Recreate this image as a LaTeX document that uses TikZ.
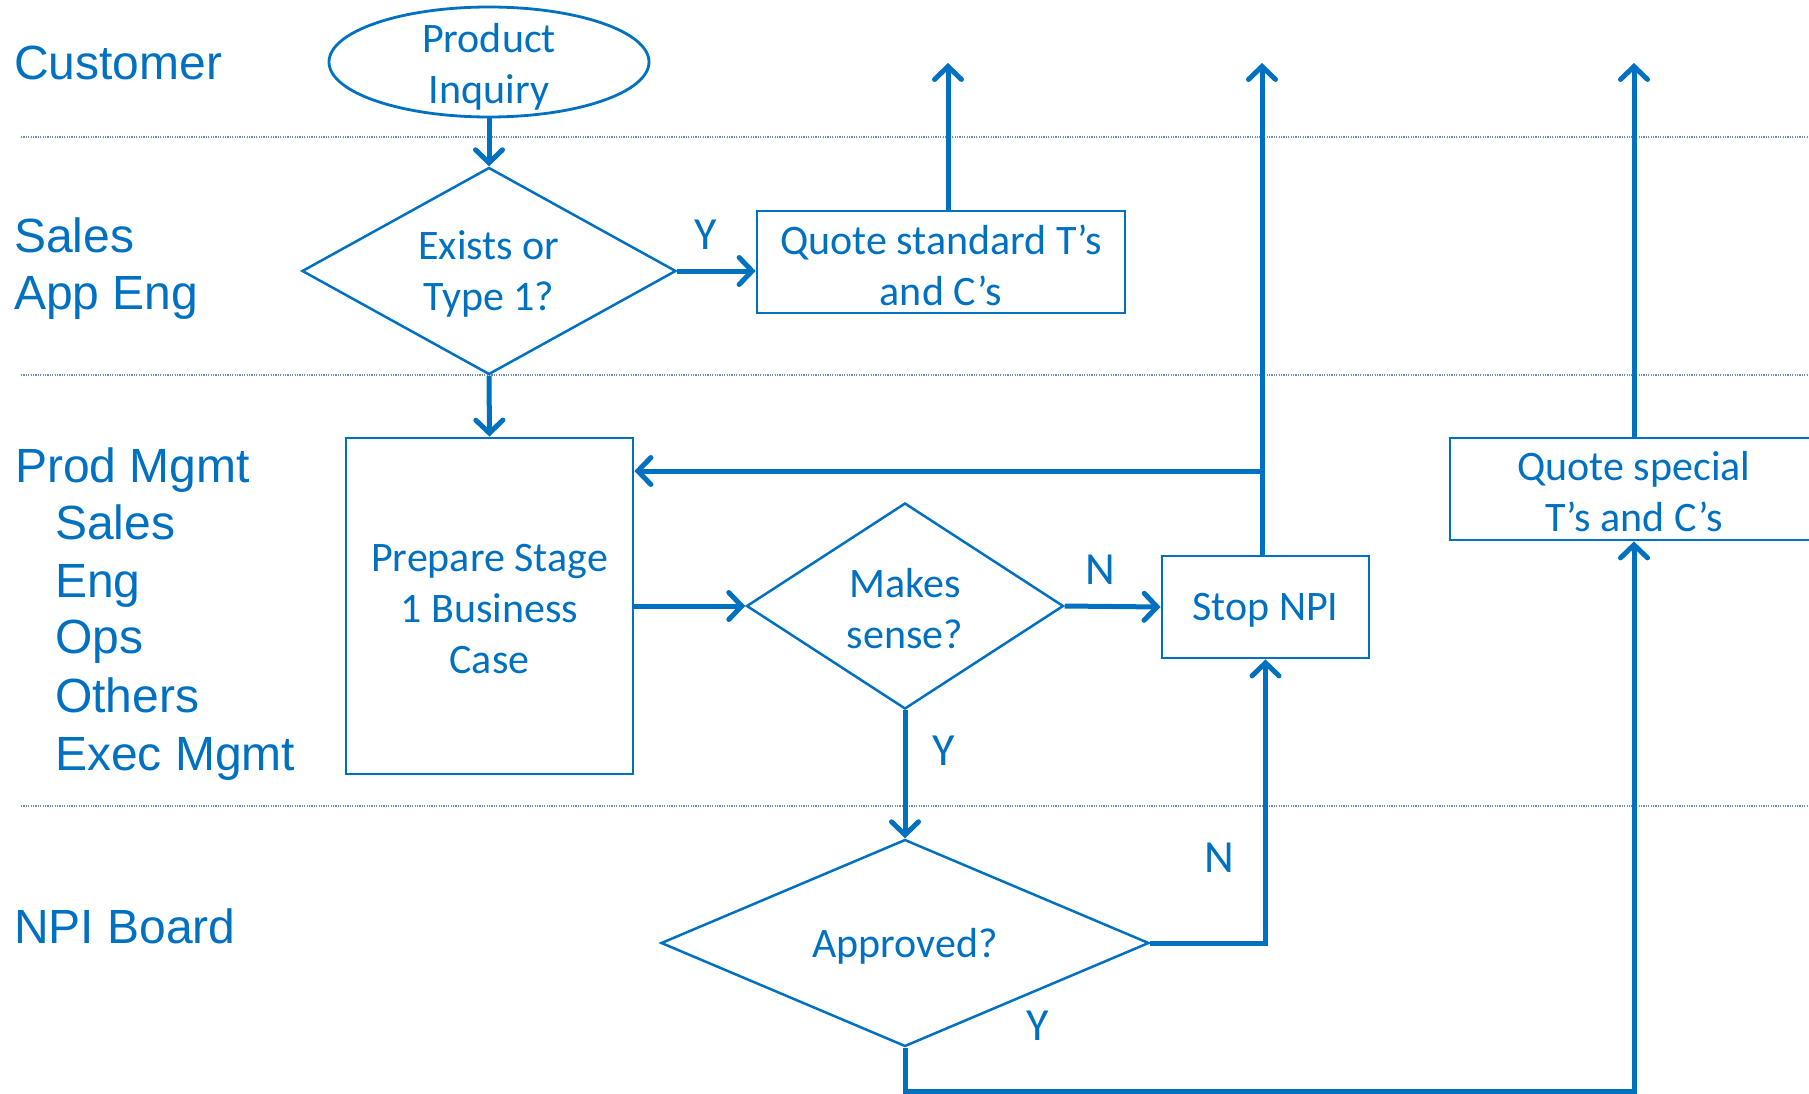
\documentclass[tikz,border=0pt]{standalone}
\usepackage{fontspec}
\setmainfont{Carlito}
\newfontfamily\lanefont{Liberation Sans}
\usetikzlibrary{shapes.geometric,arrows.meta,calc}
\definecolor{fblue}{RGB}{0,112,192}
\definecolor{lanegray}{RGB}{110,140,175}
\begin{document}
\begin{tikzpicture}[x=1pt,y=-1pt,
  every node/.style={text=fblue},
  dtext/.style={font=\fontsize{42}{51}\selectfont,align=center,text=fblue,inner sep=0pt,yshift=-3pt},
  box/.style={draw=fblue,line width=2.8pt,rectangle,inner sep=0pt},
  dec/.style={draw=fblue,line width=2.5pt,diamond,inner sep=0pt,aspect=1},
  term/.style={draw=fblue,line width=2.8pt,ellipse,inner sep=0pt},
  flow/.style={draw=fblue,line width=5pt,-{Straight Barb[length=13pt,width=27pt,line width=5pt,line cap=round]}},
  lane/.style={font=\lanefont\fontsize{48}{57}\selectfont,anchor=base west,inner sep=0pt},
  yn/.style={font=\fontsize{46}{50}\selectfont,inner sep=0pt},
  sep/.style={draw=lanegray,line width=1.2pt,dash pattern=on 1.2pt off 1.2pt}
]
\useasboundingbox (0,0) rectangle (1809,1094);
\clip (0,0) rectangle (1809,1094);

% lane separators
\draw[sep] (21,137) -- (1809,137);
\draw[sep] (21,375) -- (1809,375);
\draw[sep] (21,806) -- (1809,806);

% lane labels
\node[lane] (lcust) at (14,80) {Customer};
\node[lane] (lsales) at (14,252) {Sales};
\node[lane] (lapp) at (14,309) {App Eng};
\node[lane] (lprod) at (15,482) {Prod Mgmt};
\node[lane] (lps) at (55,539) {Sales};
\node[lane] (lpe) at (55,597) {Eng};
\node[lane] (lpo) at (55,653) {Ops};
\node[lane] (lpoth) at (55,712) {Others};
\node[lane] (lpex) at (55,770) {Exec Mgmt};
\node[lane] (lnpi) at (14,943) {NPI Board};

% nodes
\node[term,minimum width=320,minimum height=110,label={[dtext,yshift=-2pt]center:Product\\Inquiry}] (inq) at (489,62) {};
\node[dec,minimum width=374,minimum height=207,label={[dtext]center:Exists or\\Type 1?}] (d1) at (489,271) {};
\node[box,minimum width=368,minimum height=102,label={[dtext]center:Quote standard T’s\\and C’s}] (qstd) at (941,262) {};
\node[box,minimum width=287,minimum height=336,label={[dtext]center:Prepare Stage\\1 Business\\Case}] (prep) at (489.5,606) {};
\node[dec,minimum width=317,minimum height=206,label={[dtext]center:Makes\\sense?}] (d2) at (905,606) {};
\node[box,minimum width=207,minimum height=102,label={[dtext]center:Stop NPI}] (stop) at (1265.5,607) {};
\node[box,minimum width=368,minimum height=102,label={[dtext]center:Quote special\\T’s and C’s}] (qsp) at (1634,489) {};
\node[dec,minimum width=488,minimum height=207,label={[dtext]center:Approved?}] (d3) at (905,943) {};

% coordinates
\coordinate (t1) at (948,63);
\coordinate (t2) at (1262,63);
\coordinate (t3) at (1634,63);
\coordinate (j) at (1262,471);
\coordinate (bot) at (1634,1091);

% connectors
\draw[flow] (inq.south) -- (d1.north);
\draw[flow] (d1.east) -- (d1.east -| qstd.west);
\draw[flow] (d1.south) -- (prep.north);
\draw[flow] (qstd.north -| t1) -- (t1);
\draw[flow] (stop.north -| t2) -- (t2);
\draw[flow] (j) -- (j -| prep.east);
\draw[flow] (prep.east) -- (d2.west);
\draw[flow] (d2.east) -- (stop.west);
\draw[flow] (d2.south) -- (d3.north);
\draw[flow] (d3.east) -| (stop.south);
\draw[flow] (d3.south) -- (d3.south |- bot) -- (bot) -- (qsp.south);
\draw[flow] (qsp.north) -- (t3);

% connector labels
\node[yn] (ly1) at (706,235) {Y};
\node[yn] (ln1) at (1100,570) {N};
\node[yn] (ly2) at (944,751) {Y};
\node[yn] (ln2) at (1219,858) {N};
\node[yn] (ly3) at (1038,1026) {Y};
\end{tikzpicture}
\end{document}
